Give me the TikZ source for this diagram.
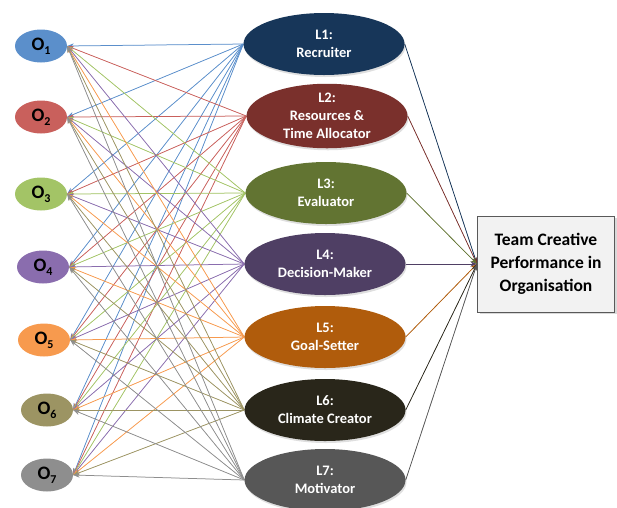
\documentclass[tikz,border=0pt]{standalone}
\usepackage{fontspec}
\setmainfont{Carlito}
\usetikzlibrary{shapes.geometric,arrows.meta,shadows}
\definecolor{oc1}{HTML}{5B8FCB}
\definecolor{oc2}{HTML}{C9605C}
\definecolor{oc3}{HTML}{A3C466}
\definecolor{oc4}{HTML}{8A6DAE}
\definecolor{oc5}{HTML}{F79A4E}
\definecolor{oc6}{HTML}{9C9463}
\definecolor{oc7}{HTML}{8E8E8E}
\definecolor{lc1}{HTML}{173659}
\definecolor{lc2}{HTML}{7A302C}
\definecolor{lc3}{HTML}{627432}
\definecolor{lc4}{HTML}{4F3F64}
\definecolor{lc5}{HTML}{B05C0C}
\definecolor{lc6}{HTML}{29261A}
\definecolor{lc7}{HTML}{575757}
\pgfdeclarelayer{bg}
\pgfsetlayers{bg,main}
\newcommand{\osub}[1]{O\raisebox{-0.45ex}{\fontsize{12}{12}\selectfont #1}}
\begin{document}
\begin{tikzpicture}[x=1pt,y=-1pt,
  onode/.style={ellipse, minimum width=52pt, minimum height=33pt, inner sep=0pt,
    font=\fontsize{19}{19}\selectfont\bfseries, text=black},
  lnode/.style={ellipse, minimum width=161pt, minimum height=62pt, inner sep=0pt,
    align=center, text=white, font=\fontsize{14.5}{18}\selectfont\bfseries,
    drop shadow={shadow xshift=1pt, shadow yshift=-2pt, opacity=0.25}},
  tbox/.style={draw=black!65, line width=1pt, fill=black!5, minimum width=137pt, minimum height=96pt,
    align=center, font=\fontsize{17.5}{23}\selectfont\bfseries, inner sep=0pt,
    drop shadow={shadow xshift=2pt, shadow yshift=-2pt, opacity=0.3}},
  conn/.style={line width=0.75pt, -{Stealth[length=6.5pt,width=5pt]}}]
\useasboundingbox (0,0) rectangle (617,507);
\node[onode, fill=oc1] (o1) at (41,46) {\osub{1}};
\node[onode, fill=oc2] (o2) at (41,117) {\osub{2}};
\node[onode, fill=oc3] (o3) at (41,194) {\osub{3}};
\node[onode, fill=oc4] (o4) at (43,267) {\osub{4}};
\node[onode, fill=oc5] (o5) at (44,340) {\osub{5}};
\node[onode, fill=oc6] (o6) at (47,410) {\osub{6}};
\node[onode, fill=oc7] (o7) at (47,475) {\osub{7}};
\node[lnode, fill=lc1] (l1) at (324,44) {L1:\\Recruiter};
\node[lnode, fill=lc2] (l2) at (327,116) {L2:\\Resources \&\\Time Allocator};
\node[lnode, fill=lc3] (l3) at (326,193) {L3:\\Evaluator};
\node[lnode, fill=lc4] (l4) at (325,264) {L4:\\Decision-Maker};
\node[lnode, fill=lc5] (l5) at (325,337) {L5:\\Goal-Setter};
\node[lnode, fill=lc6] (l6) at (325,410) {L6:\\Climate Creator};
\node[lnode, fill=lc7] (l7) at (325,480) {L7:\\Motivator};
\node[tbox] (t) at (546,264) {Team Creative\\Performance in\\Organisation};
\begin{pgfonlayer}{bg}
\foreach \i in {1,...,7}{
  \foreach \j in {1,...,7}{
    \draw[conn, draw=oc\i, fill=oc\i] (l\i.west) -- (o\j.east);
  }
  \draw[conn, draw=lc\i, fill=lc\i] (l\i.east) -- (t.west);
}
\end{pgfonlayer}
\end{tikzpicture}
\end{document}
